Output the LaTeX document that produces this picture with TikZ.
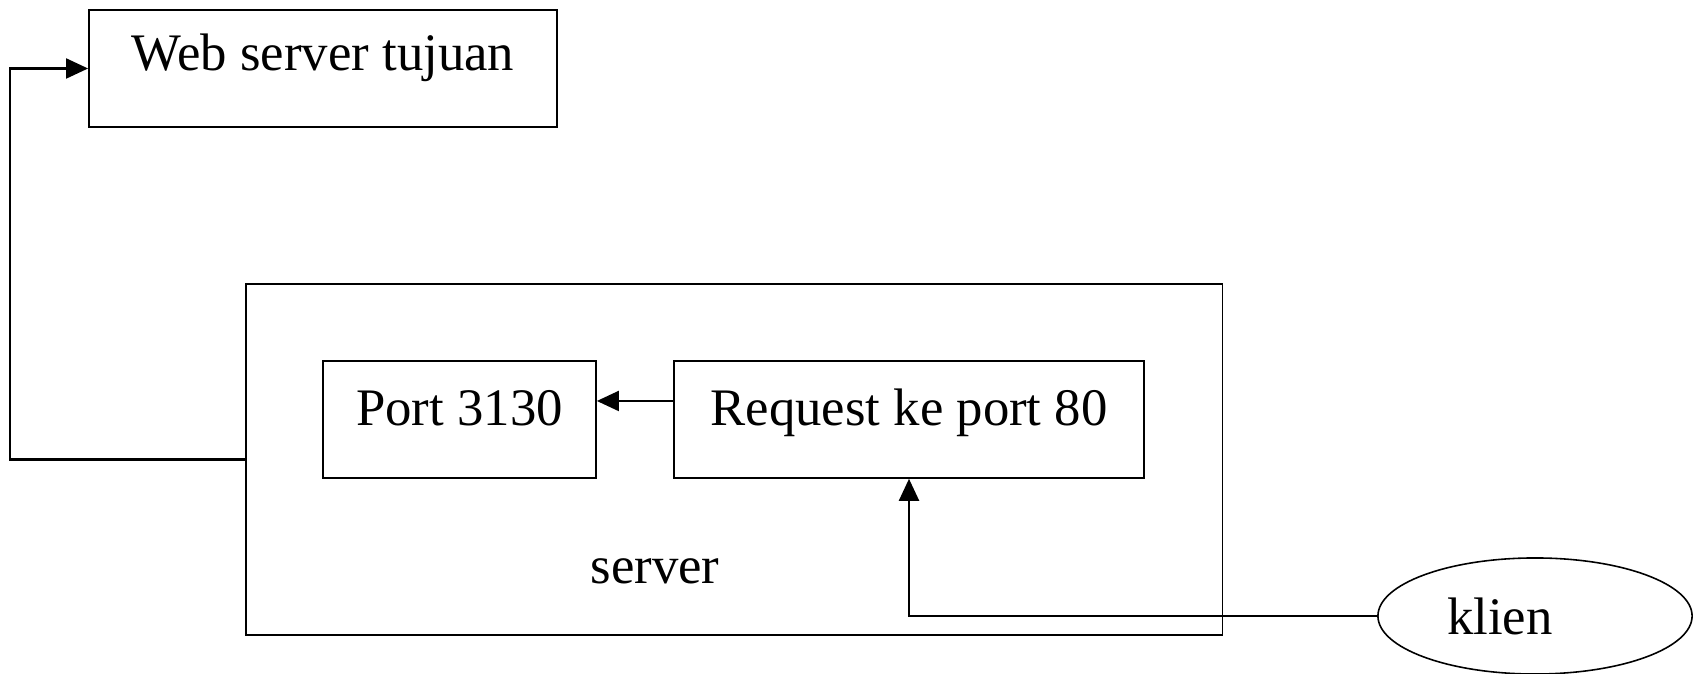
\documentclass[tikz,border=0pt]{standalone}
\usepackage{fontspec}
\setmainfont{Liberation Serif}
\usetikzlibrary{arrows.meta,shapes.geometric}

\begin{document}
\begin{tikzpicture}[x=0.01cm,y=-0.01cm,
    box/.style={draw,line width=0.45pt,inner xsep=0pt,inner ysep=0pt,font=\fontsize{15}{18}\selectfont},
    conn/.style={line width=0.6pt,-{Triangle[length=0.22cm,width=0.2cm]}}]
      \useasboundingbox (0,0) rectangle (1697,674) ;
      \node[box,minimum width=4.68cm,text height=0.61cm,text depth=0.56cm] %
      (web) at (323,68.5) {Web server tujuan} ;
      \node[box,minimum width=9.76cm,minimum height=3.51cm] (srv) at (734,459.5) {} ;
      \node[font=\fontsize{15}{18}\selectfont] (srvtxt) at (655,571) {server} ;
      \node[box,minimum width=2.73cm,text height=0.65cm,text depth=0.52cm] %
      (port) at (459.5,419.5) {Port 3130} ;
      \node[box,minimum width=4.70cm,text height=0.65cm,text depth=0.52cm] %
      (req) at (909,419.5) {Request ke port 80} ;
      \node[box,shape=ellipse,minimum width=3.14cm,minimum height=1.16cm] %
      (kl) at (1535,616) {klien\hspace*{0.7cm}} ;
      \draw[conn] (srv.west) -- ++(-235,0) |- (web.west) ;
      \draw[conn] ([yshift=1.85mm]req.west) -- ([yshift=1.85mm]req.west -| port.east) ;
      \draw[conn] (kl.west) -| (req.south) ;
    \end{tikzpicture}
\end{document}
